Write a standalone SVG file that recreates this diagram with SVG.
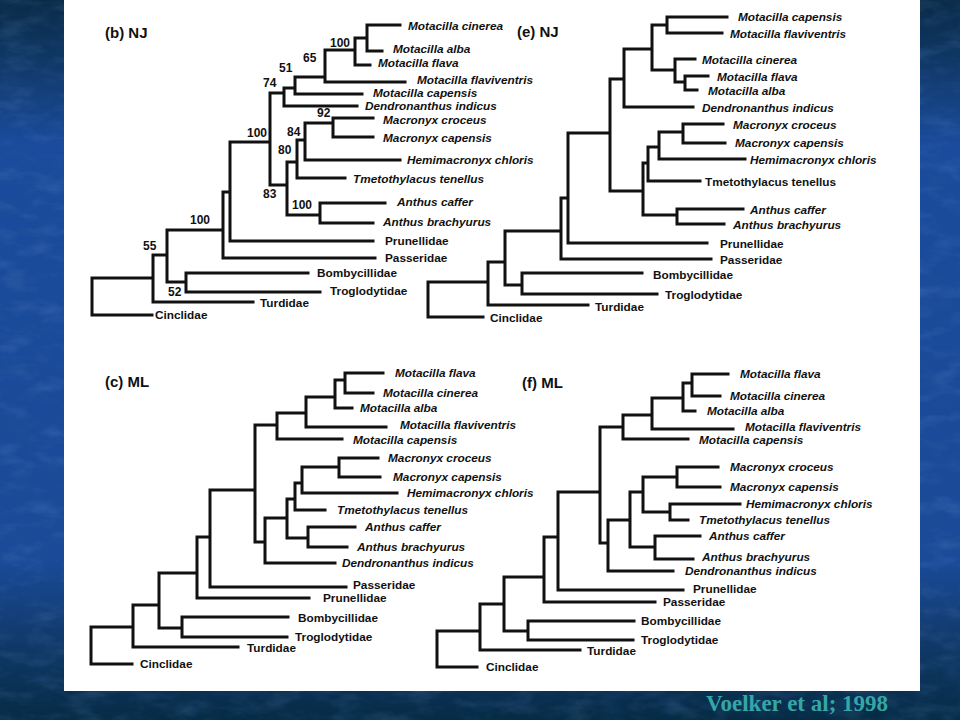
<svg xmlns="http://www.w3.org/2000/svg" width="960" height="720" viewBox="0 0 960 720">
<style>
.br{fill:none;stroke:#111;stroke-width:3;stroke-linecap:square}
.sp{font-family:"Liberation Sans",Arial,sans-serif;font-weight:bold;font-style:italic;font-size:11.8px;fill:#111}
.fm{font-family:"Liberation Sans",Arial,sans-serif;font-weight:bold;font-size:11.8px;fill:#111}
.bs{font-family:"Liberation Sans",Arial,sans-serif;font-weight:bold;font-size:12px;fill:#111}
.tt{font-family:"Liberation Sans",Arial,sans-serif;font-weight:bold;font-size:15px;fill:#111}
</style>
<defs>
<linearGradient id="bg" x1="0" y1="0" x2="0" y2="1">
<stop offset="0" stop-color="#0a2b47"/>
<stop offset="0.08" stop-color="#0f3764"/>
<stop offset="0.2" stop-color="#1a4b9c"/>
<stop offset="0.78" stop-color="#1a4a98"/>
<stop offset="0.9" stop-color="#0f3866"/>
<stop offset="1" stop-color="#062b45"/>
</linearGradient>
<filter id="tex" filterUnits="userSpaceOnUse" x="0" y="0" width="960" height="720">
<feTurbulence type="fractalNoise" baseFrequency="0.03 0.07" numOctaves="4" seed="7"/>
<feColorMatrix type="matrix" values="0 0 0 0 0.3  0 0 0 0 0.5  0 0 0 0 0.9  1.6 0 0 0 -0.75"/>
</filter>
<filter id="tex2" filterUnits="userSpaceOnUse" x="0" y="0" width="960" height="720">
<feTurbulence type="fractalNoise" baseFrequency="0.035 0.08" numOctaves="3" seed="13"/>
<feColorMatrix type="matrix" values="0 0 0 0 0.03  0 0 0 0 0.1  0 0 0 0 0.3  1.6 0 0 0 -0.75"/>
</filter>
</defs>
<g id="background">
<rect width="960" height="720" fill="url(#bg)"/>
<rect width="960" height="720" filter="url(#tex)" opacity="0.2"/>
<rect width="960" height="720" filter="url(#tex2)" opacity="0.3"/>
<rect x="64" y="0" width="856" height="691" fill="#fff"/>
</g>
<g id="connectors">
<path id="tree-b" class="br" d="M367 25V51M355 38V65M325 50V82M295 77V94M284 88V106M333 118V137M305 123V160M297 140V178M320 203V223M287 162V215M270 93V185M230 142V241M223 192V258M186 273V292M167 230V282M153 255V302M92 278V315
M355 38H367M325 50H355M295 77H325M284 88H295M270 93H284M305 123H333M297 140H305M287 162H297M287 215H320M270 185H287M230 142H270M223 192H230M167 230H223M167 282H186M153 255H167M92 278H153
M367 25H400M367 51H382M355 65H370M325 82H405M295 94H362M284 106H357M333 118H373M333 137H373M305 160H400M297 178H345M320 203H385M320 223H373M230 241H373M223 258H375M186 273H308M186 292H320M153 302H253M92 315H152"/>
<path id="tree-e" class="br" d="M667 17V33M685 76V90M675 59V82M652 25V70M624 49V107M683 124V143M659 132V159M648 147V181M677 209V224M643 163V215M610 79V191M568 133V243M561 198V259M522 273V294M505 231V285M488 262V305M428 282V317
M652 25H667M675 82H685M652 70H675M624 49H652M610 79H624M659 132H683M648 147H659M643 163H648M643 215H677M610 191H643M568 133H610M561 198H568M505 231H561M505 285H522M488 262H505M428 282H488
M667 17H727M667 33H722M675 59H695M685 76H708M685 90H697M624 107H693M683 124H723M683 143H725M659 159H745M648 181H700M677 209H743M677 224H724M568 243H707M561 259H711M522 273H642M522 294H657M488 305H588M428 317H483"/>
<path id="tree-c" class="br" d="M345 373V393M335 380V408M306 397V427M277 413V439M339 458V477M302 467V493M295 483V510M308 527V547M287 499V538M265 518V563M255 425V542M210 490V587M197 537V598M182 617V637M159 573V628M133 605V647M91 627V664
M335 380H345M306 397H335M277 413H306M255 425H277M302 467H339M295 483H302M287 499H295M287 538H308M265 518H287M255 542H265M210 490H255M197 537H210M159 573H197M159 628H182M133 605H159M91 627H133
M345 373H383M345 393H373M335 408H352M306 427H386M277 439H342M339 458H378M339 477H380M302 493H397M295 510H325M308 527H355M308 547H347M265 563H335M210 587H346M197 598H309M182 617H288M182 637H287M133 647H238M91 664H132"/>
<path id="tree-f" class="br" d="M692 374V396M683 383V411M652 398V429M623 415V439M677 467V487M670 504V520M643 477V512M655 536V559M630 492V547M608 520V571M600 427V543M558 492V590M544 537V602M528 621V640M504 577V631M480 604V650M437 631V667
M683 383H692M652 398H683M623 415H652M600 427H623M643 477H677M643 512H670M630 492H643M630 547H655M608 520H630M600 543H608M558 492H600M544 537H558M504 577H544M504 631H528M480 604H504M437 631H480
M692 374H728M692 396H720M683 411H695M652 429H733M623 439H688M677 467H718M677 487H720M670 504H740M670 520H688M655 536H700M655 559H693M608 571H673M558 590H683M544 602H655M528 621H634M528 640H633M480 650H580M437 667H477"/>
</g>
<g id="panel-b">
<g id="b-title"><text class="tt" x="105" y="38">(b) NJ</text></g>
<g id="b-1"><text class="sp" x="408" y="30">Motacilla cinerea</text></g>
<g id="b-2"><text class="sp" x="393" y="53">Motacilla alba</text></g>
<g id="b-3"><text class="sp" x="378" y="67">Motacilla flava</text></g>
<g id="b-4"><text class="sp" x="417" y="84">Motacilla flaviventris</text></g>
<g id="b-5"><text class="sp" x="373" y="97">Motacilla capensis</text></g>
<g id="b-6"><text class="sp" x="365" y="110">Dendronanthus indicus</text></g>
<g id="b-7"><text class="sp" x="383" y="124">Macronyx croceus</text></g>
<g id="b-8"><text class="sp" x="383" y="142">Macronyx capensis</text></g>
<g id="b-9"><text class="sp" x="407" y="164">Hemimacronyx chloris</text></g>
<g id="b-10"><text class="sp" x="353" y="183">Tmetothylacus tenellus</text></g>
<g id="b-11"><text class="sp" x="397" y="206">Anthus caffer</text></g>
<g id="b-12"><text class="sp" x="383" y="226">Anthus brachyurus</text></g>
<g id="b-13"><text class="fm" x="385" y="245">Prunellidae</text></g>
<g id="b-14"><text class="fm" x="385" y="262">Passeridae</text></g>
<g id="b-15"><text class="fm" x="317" y="277">Bombycillidae</text></g>
<g id="b-16"><text class="fm" x="330" y="295">Troglodytidae</text></g>
<g id="b-17"><text class="fm" x="260" y="307">Turdidae</text></g>
<g id="b-18"><text class="fm" x="155" y="319">Cinclidae</text></g>
<g id="b-support">
<text class="bs" x="330" y="47">100</text>
<text class="bs" x="303" y="62">65</text>
<text class="bs" x="279" y="72">51</text>
<text class="bs" x="263" y="87">74</text>
<text class="bs" x="317" y="117">92</text>
<text class="bs" x="287" y="136">84</text>
<text class="bs" x="278" y="154">80</text>
<text class="bs" x="292" y="209">100</text>
<text class="bs" x="263" y="198">83</text>
<text class="bs" x="247" y="137">100</text>
<text class="bs" x="190" y="224">100</text>
<text class="bs" x="143" y="250">55</text>
<text class="bs" x="168" y="296">52</text>
</g>
</g>
<g id="panel-e">
<g id="e-title"><text class="tt" x="517" y="37">(e) NJ</text></g>
<g id="e-1"><text class="sp" x="738" y="21">Motacilla capensis</text></g>
<g id="e-2"><text class="sp" x="730" y="38">Motacilla flaviventris</text></g>
<g id="e-3"><text class="sp" x="702" y="64">Motacilla cinerea</text></g>
<g id="e-4"><text class="sp" x="717" y="81">Motacilla flava</text></g>
<g id="e-5"><text class="sp" x="708" y="95">Motacilla alba</text></g>
<g id="e-6"><text class="sp" x="702" y="112">Dendronanthus indicus</text></g>
<g id="e-7"><text class="sp" x="733" y="129">Macronyx croceus</text></g>
<g id="e-8"><text class="sp" x="735" y="147">Macronyx capensis</text></g>
<g id="e-9"><text class="sp" x="750" y="164">Hemimacronyx chloris</text></g>
<g id="e-10"><text class="fm" x="705" y="186">Tmetothylacus tenellus</text></g>
<g id="e-11"><text class="sp" x="750" y="214">Anthus caffer</text></g>
<g id="e-12"><text class="sp" x="733" y="229">Anthus brachyurus</text></g>
<g id="e-13"><text class="fm" x="720" y="248">Prunellidae</text></g>
<g id="e-14"><text class="fm" x="720" y="264">Passeridae</text></g>
<g id="e-15"><text class="fm" x="653" y="279">Bombycillidae</text></g>
<g id="e-16"><text class="fm" x="665" y="299">Troglodytidae</text></g>
<g id="e-17"><text class="fm" x="595" y="311">Turdidae</text></g>
<g id="e-18"><text class="fm" x="490" y="322">Cinclidae</text></g>
</g>
<g id="panel-c">
<g id="c-title"><text class="tt" x="105" y="387">(c) ML</text></g>
<g id="c-1"><text class="sp" x="395" y="377">Motacilla flava</text></g>
<g id="c-2"><text class="sp" x="383" y="397">Motacilla cinerea</text></g>
<g id="c-3"><text class="sp" x="360" y="412">Motacilla alba</text></g>
<g id="c-4"><text class="sp" x="400" y="429">Motacilla flaviventris</text></g>
<g id="c-5"><text class="sp" x="353" y="444">Motacilla capensis</text></g>
<g id="c-6"><text class="sp" x="388" y="462">Macronyx croceus</text></g>
<g id="c-7"><text class="sp" x="393" y="481">Macronyx capensis</text></g>
<g id="c-8"><text class="sp" x="407" y="497">Hemimacronyx chloris</text></g>
<g id="c-9"><text class="sp" x="337" y="514">Tmetothylacus tenellus</text></g>
<g id="c-10"><text class="sp" x="365" y="531">Anthus caffer</text></g>
<g id="c-11"><text class="sp" x="357" y="551">Anthus brachyurus</text></g>
<g id="c-12"><text class="sp" x="342" y="567">Dendronanthus indicus</text></g>
<g id="c-13"><text class="fm" x="353" y="589">Passeridae</text></g>
<g id="c-14"><text class="fm" x="323" y="602">Prunellidae</text></g>
<g id="c-15"><text class="fm" x="298" y="622">Bombycillidae</text></g>
<g id="c-16"><text class="fm" x="295" y="641">Troglodytidae</text></g>
<g id="c-17"><text class="fm" x="247" y="652">Turdidae</text></g>
<g id="c-18"><text class="fm" x="140" y="668">Cinclidae</text></g>
</g>
<g id="panel-f">
<g id="f-title"><text class="tt" x="522" y="388">(f) ML</text></g>
<g id="f-1"><text class="sp" x="740" y="378">Motacilla flava</text></g>
<g id="f-2"><text class="sp" x="730" y="400">Motacilla cinerea</text></g>
<g id="f-3"><text class="sp" x="707" y="415">Motacilla alba</text></g>
<g id="f-4"><text class="sp" x="745" y="431">Motacilla flaviventris</text></g>
<g id="f-5"><text class="sp" x="699" y="444">Motacilla capensis</text></g>
<g id="f-6"><text class="sp" x="730" y="471">Macronyx croceus</text></g>
<g id="f-7"><text class="sp" x="730" y="491">Macronyx capensis</text></g>
<g id="f-8"><text class="sp" x="746" y="508">Hemimacronyx chloris</text></g>
<g id="f-9"><text class="sp" x="699" y="524">Tmetothylacus tenellus</text></g>
<g id="f-10"><text class="sp" x="709" y="540">Anthus caffer</text></g>
<g id="f-11"><text class="sp" x="702" y="561">Anthus brachyurus</text></g>
<g id="f-12"><text class="sp" x="685" y="575">Dendronanthus indicus</text></g>
<g id="f-13"><text class="fm" x="693" y="593">Prunellidae</text></g>
<g id="f-14"><text class="fm" x="663" y="606">Passeridae</text></g>
<g id="f-15"><text class="fm" x="641" y="625">Bombycillidae</text></g>
<g id="f-16"><text class="fm" x="641" y="644">Troglodytidae</text></g>
<g id="f-17"><text class="fm" x="587" y="655">Turdidae</text></g>
<g id="f-18"><text class="fm" x="486" y="671">Cinclidae</text></g>
</g>
<g id="caption"><text x="706" y="711" font-family="'Liberation Serif','Times New Roman',serif" font-weight="bold" font-size="23" fill="#35a6a6">Voelker et al; 1998</text></g>
</svg>
